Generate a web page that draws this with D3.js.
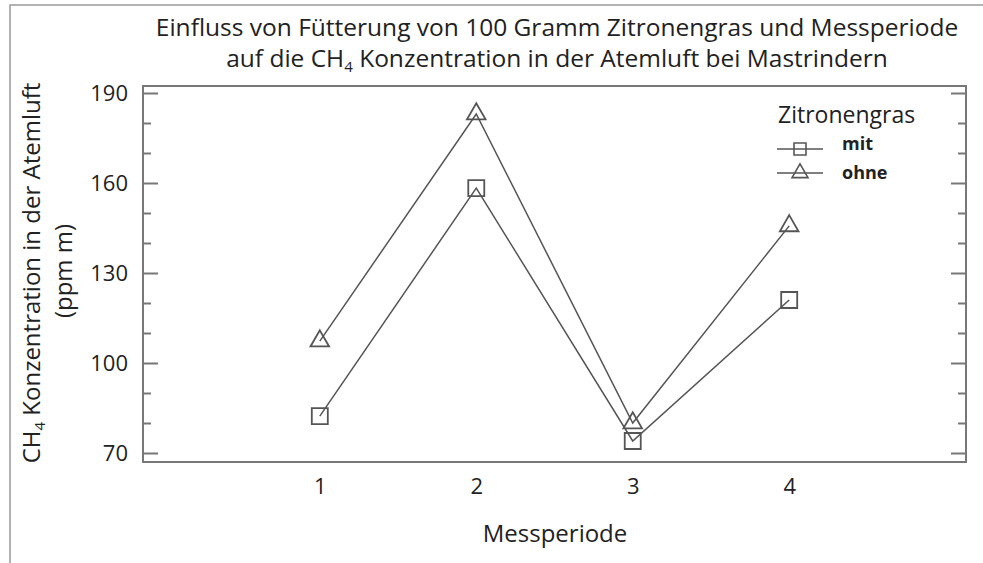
<!DOCTYPE html>
<html>
<head>
<meta charset="utf-8">
<script src="https://cdn.jsdelivr.net/npm/d3@7"></script>
<style>
  body { margin: 0; background: #fff; }
  text { fill: #222; }
</style>
</head>
<body>
<div id="chart"></div>
<script>
const periods = [1, 2, 3, 4];
const mitValues = [82.3, 158.3, 74, 121];
const ohneValues = [107.3, 183, 80, 145.7];
const yMajorTicks = [70, 100, 130, 160, 190];
const yMinorTicks = [80, 90, 110, 120, 140, 150, 170, 180];
const seriesNames = ["mit", "ohne"];

const width = 983;
const height = 563;
const frame = {left: 143, right: 966, top: 86, bottom: 462};
const ink = "#555";

const svg = d3.select('#chart').append('svg')
  .attr('width', width).attr('height', height);

// outer border (top + left only, like the pasted figure)
svg.append('path')
  .attr('d', `M10,${height} L10,5 L${width},5`)
  .attr('fill', 'none').attr('stroke', '#999').attr('stroke-width', 1.5);

const x = d3.scaleLinear()
  .domain([-0.13, 5.13])
  .range([frame.left, frame.right]);

const y = d3.scaleLinear()
  .domain([70, 190])
  .range([453, 93]);

// title
const title = svg.append('text')
  .attr('text-anchor', 'middle')
  .style('font-family', 'Open Sans')
  .style('font-size', '24.5px');
title.append('tspan').attr('x', 557).attr('y', 36)
  .text('Einfluss von Fütterung von 100 Gramm Zitronengras und Messperiode');
const t2 = title.append('tspan').attr('x', 557).attr('y', 67);
t2.append('tspan').text('auf die CH');
t2.append('tspan').attr('dy', 5).style('font-size', '15px').text('4');
t2.append('tspan').attr('dy', -5).text(' Konzentration in der Atemluft bei Mastrindern');

// frame
svg.append('rect')
  .attr('x', frame.left).attr('y', frame.top)
  .attr('width', frame.right - frame.left).attr('height', frame.bottom - frame.top)
  .attr('fill', 'none').attr('stroke', '#777').attr('stroke-width', 2);

// y axis left (major + minor) and mirrored ticks on the right
const yAxisLeft = g => g
  .attr('transform', `translate(${frame.left}, 0)`)
  .call(d3.axisLeft(y).tickValues(yMajorTicks).tickSize(-15).tickPadding(15))
  .call(g => g.select('.domain').remove());
const yMinorLeft = g => g
  .attr('transform', `translate(${frame.left}, 0)`)
  .call(d3.axisLeft(y).tickValues(yMinorTicks).tickSize(-8).tickFormat(''))
  .call(g => g.select('.domain').remove());
const yAxisRight = g => g
  .attr('transform', `translate(${frame.right}, 0)`)
  .call(d3.axisRight(y).tickValues(yMajorTicks).tickSize(-15).tickFormat(''))
  .call(g => g.select('.domain').remove());
const yMinorRight = g => g
  .attr('transform', `translate(${frame.right}, 0)`)
  .call(d3.axisRight(y).tickValues(yMinorTicks).tickSize(-8).tickFormat(''))
  .call(g => g.select('.domain').remove());

[yAxisLeft, yMinorLeft, yAxisRight, yMinorRight].forEach(a => {
  svg.append('g').call(a)
    .call(g => g.selectAll('line').attr('stroke', '#777').attr('stroke-width', 2))
    .call(g => g.selectAll('text')
      .style('font-family', 'Open Sans').style('font-size', '22px').attr('fill', '#222'));
});

// x axis labels
svg.append('g')
  .attr('transform', `translate(0, ${frame.bottom})`)
  .call(d3.axisBottom(x).tickValues(periods).tickSize(0).tickPadding(16).tickFormat(d3.format('d')))
  .call(g => g.select('.domain').remove())
  .call(g => g.selectAll('text')
    .style('font-family', 'Open Sans').style('font-size', '22px').attr('fill', '#222'));

// axis titles
svg.append('text')
  .attr('x', 555).attr('y', 542)
  .attr('text-anchor', 'middle')
  .style('font-family', 'Open Sans').style('font-size', '24px')
  .text('Messperiode');

const yTitle = svg.append('text')
  .attr('transform', 'translate(40, 273) rotate(-90)')
  .attr('text-anchor', 'middle')
  .style('font-family', 'Open Sans').style('font-size', '24px');
yTitle.append('tspan').text('CH');
yTitle.append('tspan').attr('dy', 5).style('font-size', '15px').text('4');
yTitle.append('tspan').attr('dy', -5).text(' Konzentration in der Atemluft');

svg.append('text')
  .attr('transform', 'translate(72, 271) rotate(-90)')
  .attr('text-anchor', 'middle')
  .style('font-family', 'Open Sans').style('font-size', '24px')
  .text('(ppm m)');

// lines + markers
const line = d3.line()
  .x((d, i) => x(periods[i]))
  .y(d => y(d));

const symbols = [d3.symbolSquare, d3.symbolTriangle];
const sizes = [256, 150];
[mitValues, ohneValues].forEach((vals, s) => {
  svg.append('path')
    .datum(vals)
    .attr('d', line)
    .attr('fill', 'none').attr('stroke', ink).attr('stroke-width', 1.5);
  svg.append('g')
    .selectAll('path').data(vals).enter().append('path')
    .attr('d', d3.symbol().type(symbols[s]).size(sizes[s]))
    .attr('transform', (d, i) => `translate(${x(periods[i])}, ${y(d)})`)
    .attr('fill', 'none').attr('stroke', ink).attr('stroke-width', 1.8);
});

// legend
const legend = svg.append('g');
legend.append('text')
  .attr('x', 778).attr('y', 123)
  .style('font-family', 'Open Sans').style('font-size', '23px')
  .text('Zitronengras');
const legendY = [149, 173];
const legendTextY = [150, 179];
seriesNames.forEach((name, s) => {
  legend.append('line')
    .attr('x1', 777).attr('x2', 823)
    .attr('y1', legendY[s]).attr('y2', legendY[s])
    .attr('stroke', ink).attr('stroke-width', 1.5);
  legend.append('path')
    .attr('d', d3.symbol().type(symbols[s]).size(s === 0 ? 144 : 110))
    .attr('transform', `translate(800, ${legendY[s]})`)
    .attr('fill', 'none').attr('stroke', ink).attr('stroke-width', 1.6);
  legend.append('text')
    .attr('x', 842).attr('y', legendTextY[s])
    .style('font-family', 'Open Sans').style('font-size', '18px').style('font-weight', 'bold')
    .text(name);
});
</script>
</body>
</html>
